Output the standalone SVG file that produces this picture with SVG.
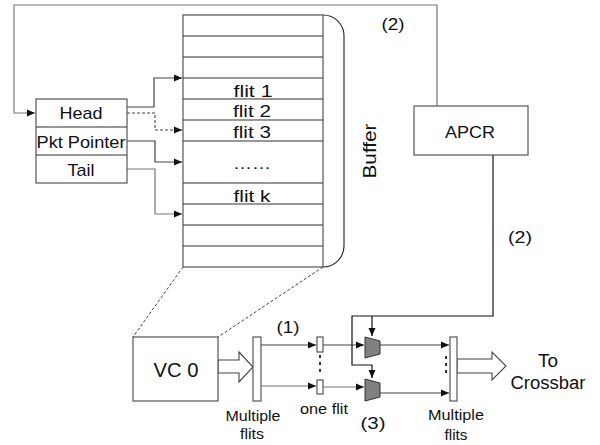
<svg xmlns="http://www.w3.org/2000/svg" width="600" height="445" viewBox="0 0 600 445">
<style>
text{font-family:"Liberation Sans",Arial,sans-serif;fill:#111}
.box{fill:#fff;stroke:#555;stroke-width:1.2}
.row{stroke:#333;stroke-width:1.2}
.ln{fill:none;stroke:#444;stroke-width:1.2}
.lg{fill:none;stroke:#777;stroke-width:1.2}
.dash{fill:none;stroke:#444;stroke-width:1.1;stroke-dasharray:3,2}
.mux{fill:#808080;stroke:#333;stroke-width:1}
.dot{fill:#333}
</style>
<defs>
<marker id="ah" markerUnits="userSpaceOnUse" markerWidth="8" markerHeight="8" refX="8" refY="4" orient="auto">
<path d="M0,0.5 L8,4 L0,7.5 Z" fill="#111"/>
</marker>
</defs>

<g id="connectors">
<path class="lg" d="M437,106 V5 H14 V113 H35" marker-end="url(#ah)"/>
<path class="ln" d="M127,107 H154 V78 H182" marker-end="url(#ah)"/>
<path class="dash" d="M127,113 H155 V130 H182" marker-end="url(#ah)"/>
<path class="ln" d="M127,141 H155 V162 H182" marker-end="url(#ah)"/>
<path class="lg" d="M127,169 H155 V214 H182" marker-end="url(#ah)"/>
<path d="M183,267 L133,337" fill="none" stroke="#444" stroke-width="1" stroke-dasharray="3,2"/>
<path d="M323,267 L218,337" fill="none" stroke="#444" stroke-width="1" stroke-dasharray="3,2"/>
<path class="ln" d="M261,345 H316" marker-end="url(#ah)"/>
<path class="lg" d="M261,386 H316" marker-end="url(#ah)"/>
<path class="ln" d="M323,345 H364" marker-end="url(#ah)"/>
<path class="lg" d="M323,387 H364" marker-end="url(#ah)"/>
<path class="ln" d="M380,345 H449" marker-end="url(#ah)"/>
<path class="ln" d="M380,393 H449" marker-end="url(#ah)"/>
<path d="M493,155 V316 H352 V365 H372 V378" fill="none" stroke="#111" stroke-width="1.2" marker-end="url(#ah)"/>
<path d="M372,316 V336" fill="none" stroke="#111" stroke-width="1.2" marker-end="url(#ah)"/>
<polygon points="218,360 239,360 239,352 253,367 239,382 239,373 218,373" fill="#fff" stroke="#444" stroke-width="1.1"/>
<polygon points="457,359 492,359 492,352 506,366 492,380 492,373 457,373" fill="#fff" stroke="#444" stroke-width="1.1"/>
</g>

<g id="buffer">
<path d="M323,15 A21,21 0 0 1 344,36 L344,246 A21,21 0 0 1 323,267" fill="none" stroke="#333" stroke-width="1.2"/>
<rect class="box" x="183" y="15" width="140" height="252"/>
<path class="row" d="M183,36 H323 M183,57 H323 M183,78 H323 M183,99 H323 M183,120 H323 M183,141 H323 M183,183 H323 M183,204 H323 M183,225 H323 M183,246 H323"/>
<text x="253" y="97" font-size="17" text-anchor="middle" textLength="39" lengthAdjust="spacingAndGlyphs">flit 1</text>
<text x="252" y="117" font-size="17" text-anchor="middle" textLength="38" lengthAdjust="spacingAndGlyphs">flit 2</text>
<text x="252" y="138" font-size="17" text-anchor="middle" textLength="38" lengthAdjust="spacingAndGlyphs">flit 3</text>
<text x="252" y="169" font-size="17" text-anchor="middle" textLength="38" lengthAdjust="spacingAndGlyphs">……</text>
<text x="252" y="202" font-size="17" text-anchor="middle" textLength="37" lengthAdjust="spacingAndGlyphs">flit k</text>
<text transform="translate(376,151) rotate(-90)" font-size="18" text-anchor="middle" textLength="55" lengthAdjust="spacingAndGlyphs">Buffer</text>
</g>

<g id="pointers">
<rect class="box" x="36" y="99" width="91" height="84"/>
<path class="row" d="M36,127 H127 M36,155 H127"/>
<text x="81" y="119" font-size="17" text-anchor="middle" textLength="43" lengthAdjust="spacingAndGlyphs">Head</text>
<text x="81" y="148" font-size="17" text-anchor="middle" textLength="89" lengthAdjust="spacingAndGlyphs">Pkt Pointer</text>
<text x="81" y="176" font-size="17" text-anchor="middle" textLength="27" lengthAdjust="spacingAndGlyphs">Tail</text>
</g>

<g id="apcr">
<rect class="box" x="414" y="106" width="114" height="49"/>
<text x="470" y="138" font-size="16" text-anchor="middle" textLength="50" lengthAdjust="spacingAndGlyphs">APCR</text>
</g>

<g id="vc0">
<rect class="box" x="133" y="337" width="85" height="64"/>
<text x="176" y="377" font-size="20" text-anchor="middle" textLength="45" lengthAdjust="spacingAndGlyphs">VC 0</text>
</g>

<g id="bar-left">
<rect class="box" x="253" y="337" width="8" height="64"/>
<text x="253" y="421" font-size="15" text-anchor="middle" textLength="55" lengthAdjust="spacingAndGlyphs">Multiple</text>
<text x="252" y="439" font-size="15" text-anchor="middle" textLength="24" lengthAdjust="spacingAndGlyphs">flits</text>
</g>

<g id="one-flit">
<rect class="box" x="317" y="337" width="6" height="15"/>
<rect class="box" x="317" y="380" width="6" height="14"/>
<rect class="dot" x="319" y="355" width="2" height="3"/>
<rect class="dot" x="319" y="362" width="2" height="3"/>
<rect class="dot" x="319" y="369" width="2" height="3"/>
<text x="324" y="414" font-size="15" text-anchor="middle" textLength="48" lengthAdjust="spacingAndGlyphs">one flit</text>
</g>

<g id="mux">
<polygon class="mux" points="365,337 380,341 380,354 365,358"/>
<polygon class="mux" points="365,379 380,383 380,397 365,401"/>
</g>

<g id="bar-right">
<rect class="box" x="450" y="337" width="7" height="64"/>
<rect class="dot" x="445" y="356" width="2" height="3"/>
<rect class="dot" x="445" y="363" width="2" height="3"/>
<rect class="dot" x="445" y="370" width="2" height="3"/>
<text x="456" y="420" font-size="15" text-anchor="middle" textLength="56" lengthAdjust="spacingAndGlyphs">Multiple</text>
<text x="456" y="440" font-size="15" text-anchor="middle" textLength="23" lengthAdjust="spacingAndGlyphs">flits</text>
</g>

<g id="labels">
<text x="393" y="30" font-size="17" text-anchor="middle" textLength="23" lengthAdjust="spacingAndGlyphs">(2)</text>
<text x="520" y="243" font-size="17" text-anchor="middle" textLength="24" lengthAdjust="spacingAndGlyphs">(2)</text>
<text x="288" y="333" font-size="17" text-anchor="middle" textLength="23" lengthAdjust="spacingAndGlyphs">(1)</text>
<text x="373" y="429" font-size="17" text-anchor="middle" textLength="25" lengthAdjust="spacingAndGlyphs">(3)</text>
<text x="548" y="367" font-size="18" text-anchor="middle" textLength="20" lengthAdjust="spacingAndGlyphs">To</text>
<text x="548" y="389" font-size="18" text-anchor="middle" textLength="75" lengthAdjust="spacingAndGlyphs">Crossbar</text>
</g>
</svg>
